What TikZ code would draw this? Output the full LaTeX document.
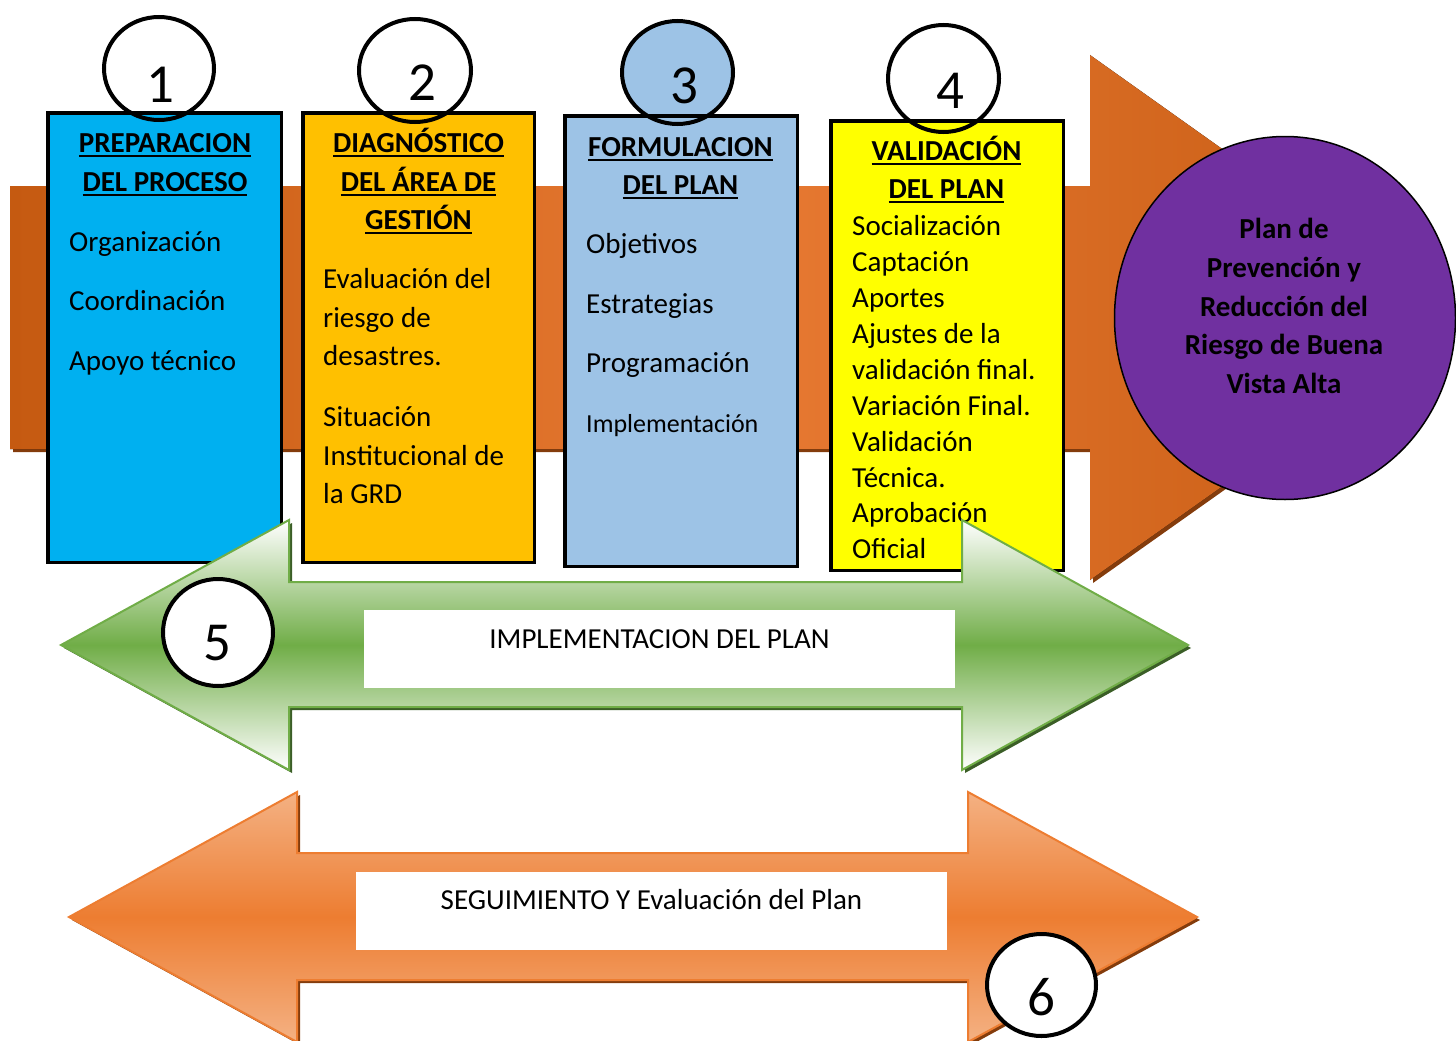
\documentclass[tikz,border=0pt]{standalone}
\usepackage{fontspec}
\setmainfont{Carlito}
\usetikzlibrary{shapes.geometric}
\definecolor{orD}{HTML}{C55A11}
\definecolor{orM}{HTML}{E87A33}
\definecolor{orS}{HTML}{843C0C}
\definecolor{cyanB}{HTML}{00B0F0}
\definecolor{goldB}{HTML}{FFC000}
\definecolor{blueB}{HTML}{9DC3E6}
\definecolor{yelB}{HTML}{FFFF00}
\definecolor{purp}{HTML}{7030A0}
\definecolor{grn}{HTML}{70AD47}
\definecolor{grnS}{HTML}{3B5E27}
\definecolor{orA}{HTML}{ED7D31}
\definecolor{orLt}{HTML}{F4B183}
\newsavebox\ulbox
\newcommand\ulx[1]{\sbox\ulbox{#1}\rlap{\rule[-5pt]{\wd\ulbox}{2pt}}\usebox\ulbox}
\tikzset{
  stage/.style={draw=black, line width=3.5pt, inner sep=0pt, outer sep=0pt},
  numring/.style={ellipse, draw=black, line width=4pt, inner sep=0pt},
  digit/.style={anchor=base, inner sep=0pt, font=\fontsize{55}{60}\selectfont},
  ttl/.style={anchor=base, inner sep=0pt, font=\fontsize{29}{35}\selectfont\bfseries},
  itm/.style={anchor=base west, inner sep=0pt, font=\fontsize{29}{35}\selectfont},
  lbl/.style={anchor=base, inner sep=0pt, font=\fontsize{29}{34}\selectfont},
  labelbox/.style={fill=white, inner sep=0pt, outer sep=0pt},
}
\begin{document}
\begin{tikzpicture}[x=1pt,y=-1pt]
\useasboundingbox (0,0) rectangle (1456,1041);
\clip (0,0) rectangle (1456,1041);

% background process arrow
\fill[orS, shift={(3,3)}] (10,186) -- (1090,186) -- (1090,55) -- (1460,318) -- (1090,580) -- (1090,449) -- (10,449) -- cycle;
\fill[left color=orD, right color=orD, middle color=orM] (10,186) -- (1090,186) -- (1090,55) -- (1460,318) -- (1090,580) -- (1090,449) -- (10,449) -- cycle;

% fill of circle 3
\fill[blueB] (677.5,72.5) ellipse [x radius=55.5pt, y radius=51.5pt];

% stage boxes
\node[stage, fill=cyanB, minimum width=233.5pt, minimum height=449.5pt] (box1) at (164.5,337.5) {};
\node[stage, fill=goldB, minimum width=231.5pt, minimum height=449.5pt] (box2) at (418.5,337.5) {};
\node[stage, fill=blueB, minimum width=232.5pt, minimum height=450.5pt] (box3) at (681,341) {};
\node[stage, fill=yelB, minimum width=232.5pt, minimum height=449.5pt] (box4) at (947,345.5) {};

% number rings
\node[numring, minimum width=110pt, minimum height=103pt] (c1) at (159,68.5) {};
\node[numring, minimum width=112pt, minimum height=103pt] (c2) at (415,70.5) {};
\node[numring, minimum width=111pt, minimum height=103pt] (c3) at (677.5,72.5) {};
\node[numring, minimum width=111pt, minimum height=107pt] (c4) at (943.5,78.5) {};
\node[digit] (n1) at (160,102) {1};
\node[digit] (n2) at (422,100) {2};
\node[digit] (n3) at (684,103) {3};
\node[digit] (n4) at (950,108) {4};

% box 1
\node[ttl] (b1t1) at (165,152) {\ulx{PREPARACION}};
\node[ttl] (b1t2) at (165,191) {\ulx{DEL PROCESO}};
\foreach \t/\y [count=\i] in {Organización/251, Coordinación/310, Apoyo técnico/370}
  \node[itm] (b1i\i) at (69,\y) {\t};

% box 2
\node[ttl] (b2t1) at (418.5,152) {\ulx{DIAGNÓSTICO}};
\node[ttl] (b2t2) at (418.5,191) {\ulx{DEL ÁREA DE}};
\node[ttl] (b2t3) at (418.5,229) {\ulx{GESTIÓN}};
\foreach \t/\y [count=\i] in {Evaluación del/288, riesgo de/327, desastres./365, Situación/426, Institucional de/465, la GRD/503}
  \node[itm] (b2i\i) at (323,\y) {\t};

% box 3
\node[ttl] (b3t1) at (680.5,156) {\ulx{FORMULACION}};
\node[ttl] (b3t2) at (680.5,194) {\ulx{DEL PLAN}};
\foreach \t/\y [count=\i] in {Objetivos/253, Estrategias/313, Programación/372}
  \node[itm] (b3i\i) at (586,\y) {\t};
\node[itm, font=\fontsize{26}{31}\selectfont] (b3i4) at (586,432) {Implementación};

% box 4
\node[ttl] (b4t1) at (946.5,160) {\ulx{VALIDACIÓN}};
\node[ttl] (b4t2) at (946.5,198) {\ulx{DEL PLAN}};
\foreach \t/\y [count=\i] in {Socialización/235, Captación/271, Aportes/307, Ajustes de la/343, validación final./379, Variación Final./415, Validación/451, Técnica./487, Aprobación/522, Oficial/558}
  \node[itm] (b4i\i) at (852,\y) {\t};

% result circle
\node[ellipse, draw=black, line width=1.5pt, fill=purp, minimum width=341pt, minimum height=363pt, inner sep=0pt] (goal) at (1285,318) {};
\foreach \t/\y [count=\i] in {Plan de/238, Prevención y/277, Reducción del/316, Riesgo de Buena/354, Vista Alta/393}
  \node[ttl] (g\i) at (1284,\y) {\t};

% green implementation arrow
\fill[grnS, shift={(3,3)}] (61,645) -- (289,520) -- (289,582) -- (962,582) -- (962,520) -- (1188,645) -- (962,770) -- (962,707) -- (289,707) -- (289,770) -- cycle;
\draw[grn, line width=2pt, top color=white, bottom color=white, middle color=grn] (61,645) -- (289,520) -- (289,582) -- (962,582) -- (962,520) -- (1188,645) -- (962,770) -- (962,707) -- (289,707) -- (289,770) -- cycle;
\node[labelbox, minimum width=591pt, minimum height=78pt] (implbox) at (659.5,649) {};
\node[lbl] (impltext) at (659.5,648) {IMPLEMENTACION DEL PLAN};
\node[numring, fill=white, minimum width=110pt, minimum height=107pt] (c5) at (218,632.5) {};
\node[digit] (n5) at (217,660) {5};

% orange monitoring arrow
\fill[orS, shift={(3,3)}] (69,917) -- (297,792) -- (297,853) -- (968,853) -- (968,792) -- (1197,917) -- (968,1042) -- (968,980) -- (297,980) -- (297,1042) -- cycle;
\draw[orA, line width=2pt, top color=orLt, bottom color=orLt, middle color=orA] (69,917) -- (297,792) -- (297,853) -- (968,853) -- (968,792) -- (1197,917) -- (968,1042) -- (968,980) -- (297,980) -- (297,1042) -- cycle;
\node[labelbox, minimum width=591pt, minimum height=78pt] (segbox) at (651.5,911) {};
\node[lbl] (segtext) at (651.5,909) {SEGUIMIENTO Y Evaluación del Plan};
\node[numring, fill=white, minimum width=109pt, minimum height=102pt] (c6) at (1041.5,985) {};
\node[digit] (n6) at (1041,1015) {6};
\end{tikzpicture}
\end{document}
